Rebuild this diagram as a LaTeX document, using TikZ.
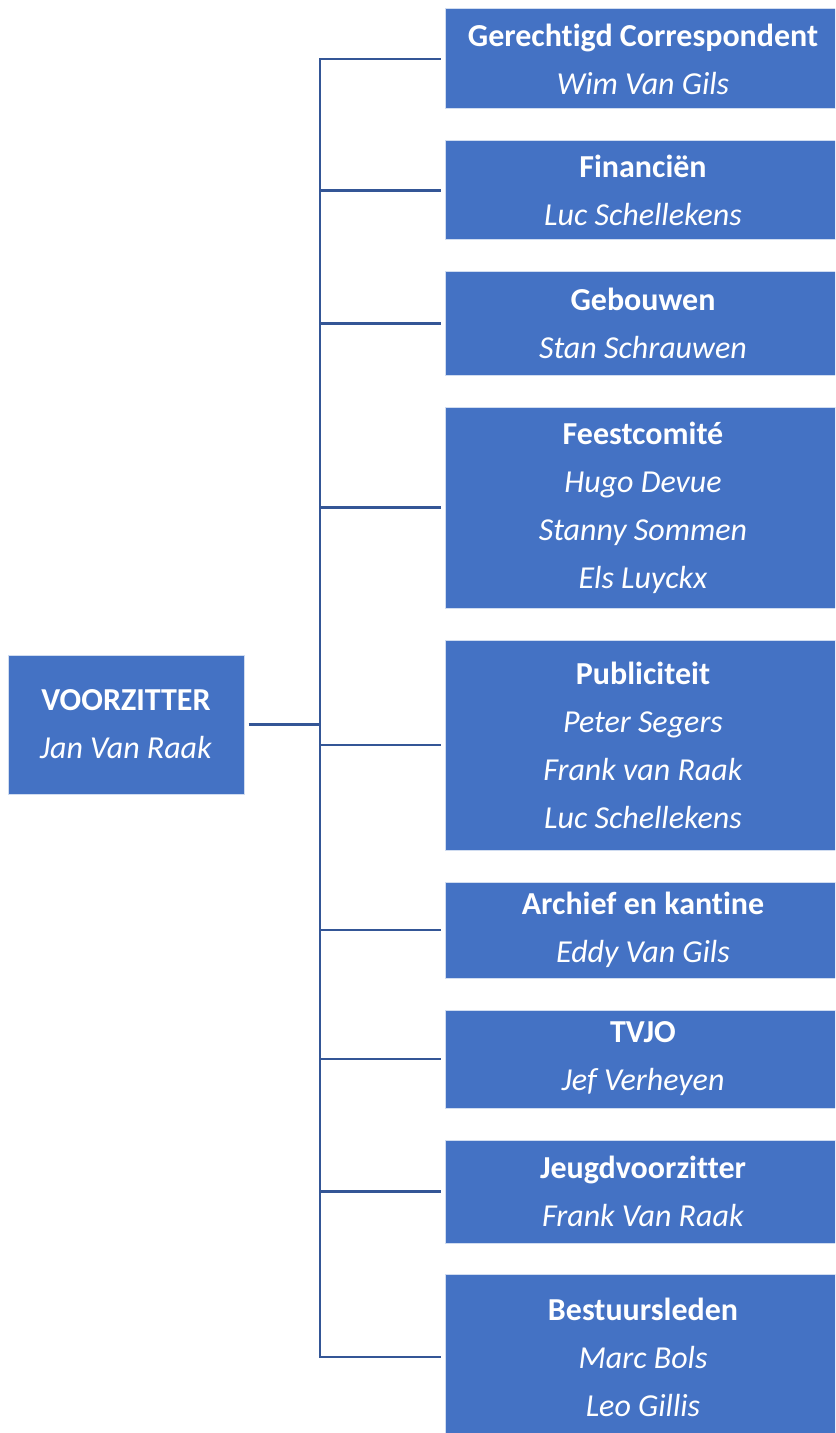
\documentclass[tikz,border=0pt]{standalone}
\usepackage{fontspec}
\setmainfont{Carlito}[Ligatures=NoCommon]
\definecolor{boxblue}{RGB}{68,114,196}
\definecolor{lineblue}{RGB}{52,86,150}

\begin{document}
\begin{tikzpicture}[x=0.5pt, y=-0.5pt,
    post/.style={fill=boxblue, draw=white!75!boxblue, line width=0.5pt,
        text=white, align=center, inner sep=0pt,
        font=\fontsize{16}{24}\selectfont},
    link/.style={lineblue, line width=1.3pt}]
    \useasboundingbox (0,0) rectangle (835,1433);
    \clip (0,0) rectangle (835,1433);
    % The chairman on the left.
        \node[post, minimum width=118pt, minimum height=69.5pt] (vz) at (126,724.5)
            {\textbf{VOORZITTER}\\ \textit{Jan Van Raak}};
    % Below nodes are the boxes on the right.
        \node[post, minimum width=198pt, minimum height=50pt] (gc) at (643,59)
            {\textbf{Gerechtigd Correspondent}\\ \textit{Wim Van Gils}};
        \node[post, minimum width=198pt, minimum height=49.5pt] (fin) at (643,190.5)
            {\textbf{Financiën}\\ \textit{Luc Schellekens}};
        \node[post, minimum width=198pt, minimum height=51.5pt] (geb) at (643,323.5)
            {\textbf{Gebouwen}\\ \textit{Stan Schrauwen}};
        \node[post, minimum width=198pt, minimum height=100.5pt] (fc) at (643,507.5)
            {\textbf{Feestcomité}\\ \textit{Hugo Devue}\\ \textit{Stanny Sommen}\\ \textit{Els Luyckx}};
        \node[post, minimum width=198pt, minimum height=105pt] (pub) at (643,745)
            {\textbf{Publiciteit}\\ \textit{Peter Segers}\\ \textit{Frank van Raak}\\ \textit{Luc Schellekens}};
        \node[post, minimum width=198pt, minimum height=48pt] (ak) at (643,930)
            {\textbf{Archief en kantine}\\ \textit{Eddy Van Gils}};
        \node[post, minimum width=198pt, minimum height=49pt] (tvjo) at (643,1059)
            {\textbf{TVJO}\\ \textit{Jef Verheyen}};
        \node[post, minimum width=198pt, minimum height=51.5pt] (jv) at (643,1191.5)
            {\textbf{Jeugdvoorzitter}\\ \textit{Frank Van Raak}};
        \node[post, minimum width=198pt, minimum height=83pt] (bl) at (643,1357)
            {\textbf{Bestuursleden}\\ \textit{Marc Bols}\\ \textit{Leo Gillis}};
    % This draws the connectors.
        \coordinate (trunk) at (320,0);
        \draw[link, shorten <=2pt] (vz.east) -- (trunk |- vz.east);
        \draw[link, line cap=rect] (trunk |- gc) -- (trunk |- bl);
        \draw[link, shorten >=2pt] (trunk |- gc) -- (gc.west);
        \draw[link, shorten >=2pt] (trunk |- fin) -- (fin.west);
        \draw[link, shorten >=2pt] (trunk |- geb) -- (geb.west);
        \draw[link, shorten >=2pt] (trunk |- fc) -- (fc.west);
        \draw[link, shorten >=2pt] (trunk |- pub) -- (pub.west);
        \draw[link, shorten >=2pt] (trunk |- ak) -- (ak.west);
        \draw[link, shorten >=2pt] (trunk |- tvjo) -- (tvjo.west);
        \draw[link, shorten >=2pt] (trunk |- jv) -- (jv.west);
        \draw[link, shorten >=2pt] (trunk |- bl) -- (bl.west);
\end{tikzpicture}
\end{document}
